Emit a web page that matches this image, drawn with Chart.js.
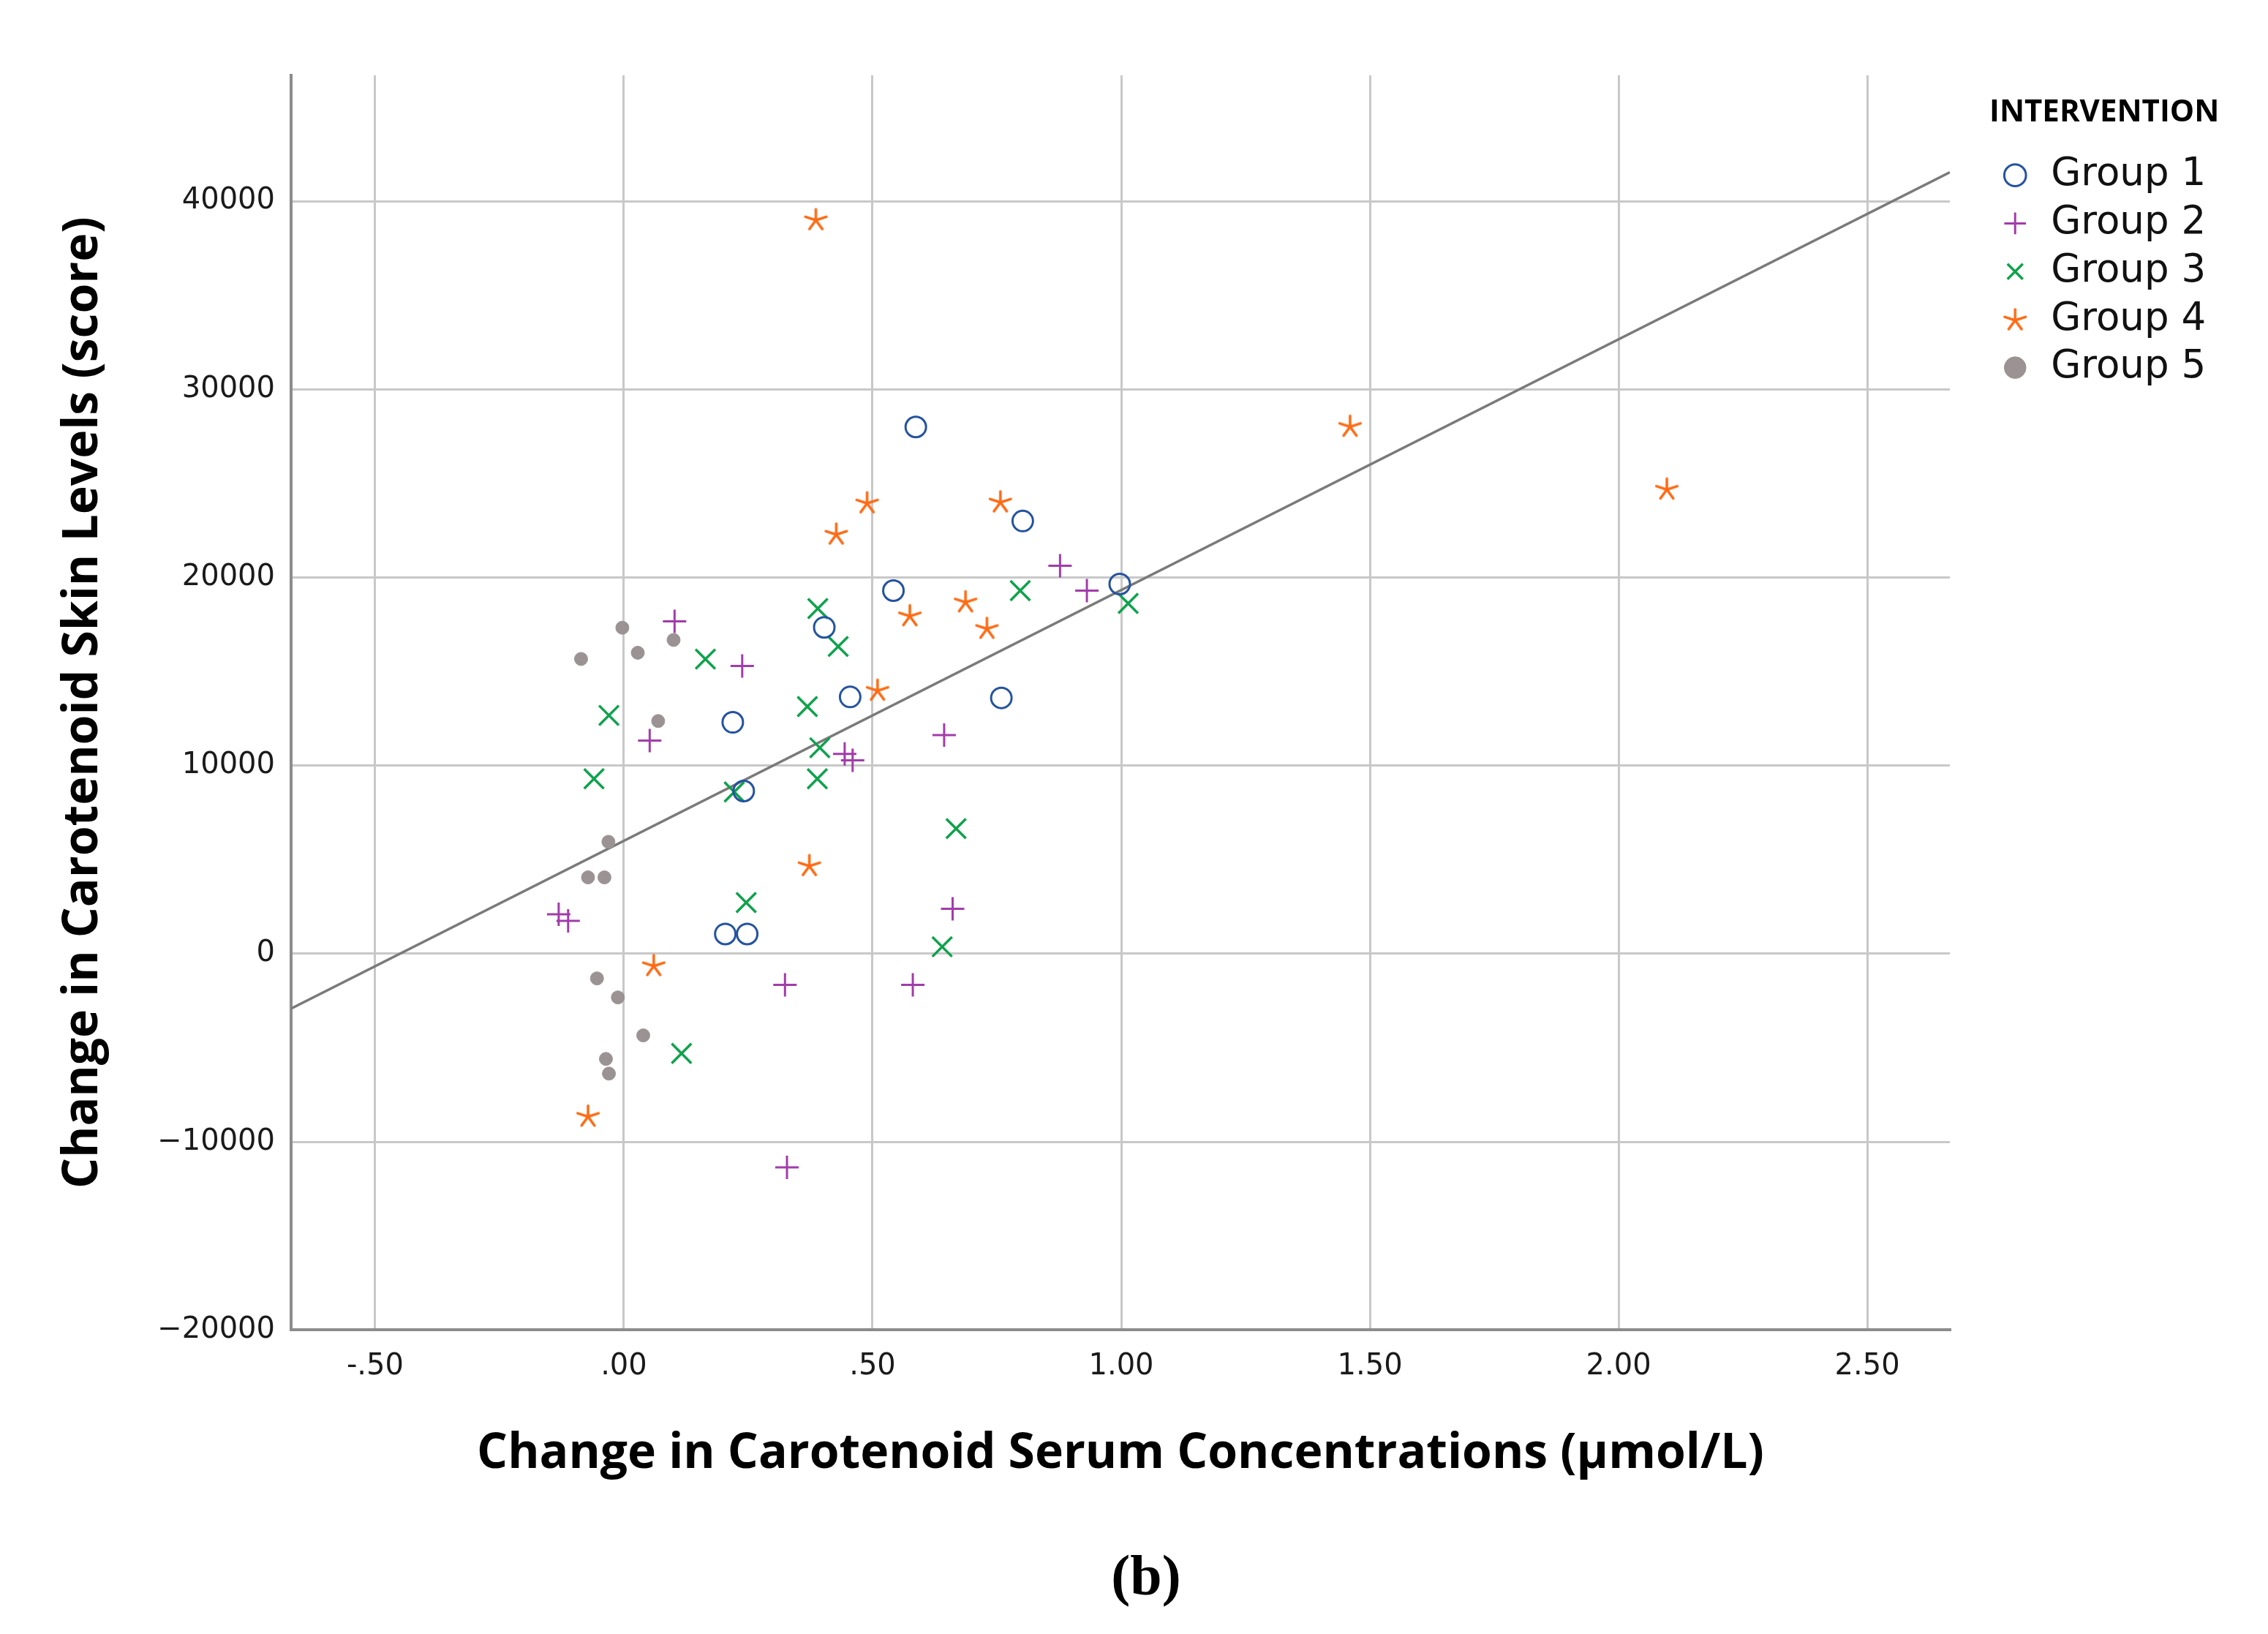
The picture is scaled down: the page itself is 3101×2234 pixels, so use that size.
<!DOCTYPE html>
<html>
<head>
<meta charset="utf-8">
<script src="https://cdn.jsdelivr.net/npm/chart.js@4"></script>
<style>
  html, body { margin: 0; padding: 0; background: #fff; overflow: hidden; }
  canvas { display: block; }
</style>
</head>
<body>
<canvas id="chart" width="3101" height="2234"></canvas>
<script>
// Values
const group1X = [0.587, 0.802, 0.542, 0.997, 0.403, 0.455, 0.759, 0.219, 0.241, 0.204, 0.248];
const group1Y = [28000, 23000, 19300, 19650, 17350, 13650, 13600, 12300, 8650, 1050, 1050];

const group2X = [0.102, 0.238, 0.052, -0.131, -0.112, 0.877, 0.931, 0.644, 0.444, 0.460, 0.661, 0.324, 0.581, 0.328];
const group2Y = [17670, 15300, 11330, 2100, 1750, 20620, 19300, 11620, 10620, 10280, 2390, -1650, -1650, -11350];

const group3X = [0.164, 0.390, 0.431, 0.369, 0.394, 0.389, 0.222, -0.030, -0.060, 0.797, 1.014, 0.668, 0.640, 0.246, 0.116];
const group3Y = [15660, 18350, 16330, 13140, 10950, 9300, 8600, 12670, 9300, 19300, 18620, 6650, 370, 2720, -5300];

const group4X = [0.386, 0.489, 0.427, 0.757, 1.460, 2.097, 0.575, 0.687, 0.730, 0.510, 0.373, 0.060, -0.072];
const group4Y = [39030, 23980, 22320, 24030, 28050, 24710, 17980, 18720, 17310, 14020, 4700, -615, -8620];

const group5X = [-0.003, 0.100, 0.028, -0.086, 0.069, -0.031, -0.072, -0.039, -0.054, -0.012, 0.039, -0.036, -0.030];
const group5Y = [17330, 16680, 16000, 15670, 12370, 5950, 4060, 4060, -1310, -2320, -4340, -5590, -6370];

const groupLabels = ['Group 1', 'Group 2', 'Group 3', 'Group 4', 'Group 5'];

// fit line (total sample)
const fitIntercept = 6000;
const fitSlope = 13330;

// axes
const xMin = -0.669, xMax = 2.666;
const yMin = -20000, yMax = 46690;
const xTicks = [-0.5, 0, 0.5, 1, 1.5, 2, 2.5];
const yTicks = [-20000, -10000, 0, 10000, 20000, 30000, 40000];

const legendWidth = 381;

const toPoints = (xs, ys) => xs.map((x, i) => ({x: x, y: ys[i]}));

// asterisk marker for group 4
const orange = '#ff6a13';
const starImg = document.createElement('canvas');
starImg.width = 36;
starImg.height = 36;
(function () {
    const c = starImg.getContext('2d');
    c.strokeStyle = orange;
    c.lineWidth = 3.5;
    c.lineCap = 'round';
    c.beginPath();
    for (let k = 0; k < 5; k++) {
        const a = -Math.PI / 2 + k * 2 * Math.PI / 5;
        c.moveTo(18, 19);
        c.lineTo(18 + 15 * Math.cos(a), 19 + 15 * Math.sin(a));
    }
    c.stroke();
})();

const titleFont = {family: '"Open Sans"', weight: 'bold', size: 66};
const tickFont = {family: '"DejaVu Sans"', size: 40};

const fmtX = (v) => {
    const s = Math.abs(v).toFixed(2);
    const t = Math.abs(v) < 1 ? s.slice(1) : s;
    return (v < 0 ? '-' : '') + t;
};
const fmtY = (v) => (v < 0 ? '\u2212' + Math.abs(v) : String(v));

const ctx = document.getElementById('chart');

const chart = new Chart(ctx, {
    type: 'scatter',
    data: {
        datasets: [
            {
                label: groupLabels[0],
                data: toPoints(group1X, group1Y),
                pointStyle: 'circle',
                pointRadius: 14,
                pointBorderWidth: 3,
                borderWidth: 3,
                borderColor: '#2453a0',
                backgroundColor: 'rgba(0,0,0,0)'
            },
            {
                label: groupLabels[1],
                data: toPoints(group2X, group2Y),
                pointStyle: 'cross',
                pointRadius: 16,
                pointBorderWidth: 3,
                borderWidth: 3,
                borderColor: '#a23caa',
                backgroundColor: '#a23caa'
            },
            {
                label: groupLabels[2],
                data: toPoints(group3X, group3Y),
                pointStyle: 'crossRot',
                pointRadius: 19,
                pointBorderWidth: 3.5,
                borderWidth: 3.5,
                borderColor: '#0fa24c',
                backgroundColor: '#0fa24c'
            },
            {
                label: groupLabels[3],
                data: toPoints(group4X, group4Y),
                pointStyle: starImg,
                pointRadius: 16,
                borderWidth: 3,
                borderColor: orange,
                backgroundColor: orange
            },
            {
                label: groupLabels[4],
                data: toPoints(group5X, group5Y),
                pointStyle: 'circle',
                pointRadius: 9,
                pointBorderWidth: 1,
                borderWidth: 1,
                borderColor: '#9b9393',
                backgroundColor: '#9b9393'
            },
            {
                type: 'line',
                label: 'fit',
                data: [
                    {x: xMin, y: fitIntercept + fitSlope * xMin},
                    {x: xMax, y: fitIntercept + fitSlope * xMax}
                ],
                borderColor: '#7a7a7a',
                borderWidth: 3.5,
                pointRadius: 0,
                fill: false
            }
        ]
    },
    options: {
        responsive: false,
        animation: false,
        devicePixelRatio: 1,
        layout: {
            padding: {top: 103, right: 0, left: 33, bottom: 0}
        },
        scales: {
            x: {
                type: 'linear',
                min: xMin,
                max: xMax,
                afterBuildTicks: (s) => { s.ticks = xTicks.map(v => ({value: v})); },
                afterFit: (s) => { s.height = 275; },
                grid: {color: '#c8c8c8', lineWidth: 3, drawTicks: false},
                border: {display: true, color: '#8c8c8c', width: 4},
                ticks: {
                    font: tickFont,
                    color: '#1a1a1a',
                    padding: 26,
                    maxRotation: 0,
                    callback: (v) => fmtX(v)
                },
                title: {
                    display: true,
                    text: 'Change in Carotenoid Serum Concentrations (\u00b5mol/L)',
                    font: titleFont,
                    color: '#000',
                    padding: {top: 0, bottom: 66}
                }
            },
            y: {
                type: 'linear',
                min: yMin,
                max: yMax,
                afterBuildTicks: (s) => { s.ticks = yTicks.map(v => ({value: v})); },
                afterFit: (s) => { s.width = 365; },
                grid: {color: '#c8c8c8', lineWidth: 3, drawTicks: false},
                border: {display: true, color: '#8c8c8c', width: 4},
                ticks: {
                    font: tickFont,
                    color: '#1a1a1a',
                    padding: 22,
                    callback: (v) => fmtY(v)
                },
                title: {
                    display: true,
                    text: 'Change in Carotenoid Skin Levels (score)',
                    font: titleFont,
                    color: '#000',
                    padding: {top: 42, bottom: 0}
                }
            },
            // spacer between plot and legend
            gap: {
                type: 'linear',
                position: 'right',
                display: true,
                afterFit: (s) => { s.width = 54; },
                grid: {display: false},
                border: {display: false},
                ticks: {display: false}
            }
        },
        plugins: {
            legend: {
                position: 'right',
                align: 'start',
                labels: {
                    usePointStyle: true,
                    boxWidth: 45,
                    boxHeight: 21,
                    padding: 12.75,
                    font: {family: '"DejaVu Sans"', size: 53},
                    color: '#111',
                    filter: (item) => item.datasetIndex < 5
                },
                title: {
                    display: true,
                    text: 'INTERVENTION',
                    position: 'start',
                    font: {family: '"Open Sans"', weight: 'bold', size: 42},
                    color: '#000',
                    padding: {top: 30, bottom: 17}
                }
            },
            title: {
                display: true,
                position: 'bottom',
                text: '(b)',
                font: {family: '"Liberation Serif"', weight: 'bold', size: 78},
                color: '#000',
                padding: {top: 20, bottom: 27}
            },
            tooltip: {enabled: false}
        }
    }
});

// widen the legend box so its title is not cut off
const legendFit = chart.legend.fit;
chart.legend.fit = function () {
    legendFit.call(this);
    this.width = legendWidth;
};
chart.update();
</script>
</body>
</html>
